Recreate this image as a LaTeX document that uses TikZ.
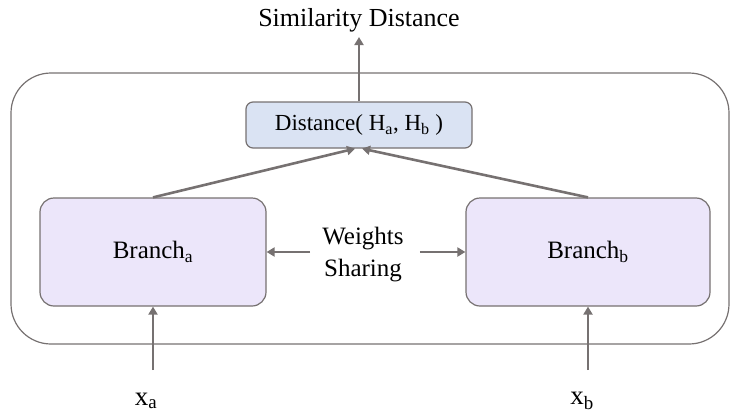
\documentclass[tikz,border=0pt]{standalone}
\usepackage{fontspec}
\setmainfont{Liberation Serif}
\usepackage{tikz}
\usetikzlibrary{arrows.meta}
\definecolor{linegray}{HTML}{767171}
\definecolor{distfill}{HTML}{DAE3F3}
\definecolor{branchfill}{HTML}{ECE6FA}
\tikzset{
  branchbox/.style={draw=linegray, line width=1.2pt, fill=branchfill, rounded corners=14pt, minimum height=108pt, inner sep=0pt, font=\fontsize{25}{30}\selectfont},
  distbox/.style={draw=linegray, line width=1.2pt, fill=distfill, rounded corners=7pt, minimum width=226pt, minimum height=46pt, inner sep=0pt, font=\fontsize{23}{28}\selectfont},
  arr/.style={draw=linegray, line width=2.6pt, -{Triangle[length=8pt,width=9pt]}},
}
\begin{document}
\begin{tikzpicture}[x=1pt,y=-1pt]
        \useasboundingbox (0,0) rectangle (730,415);
        % outer frame
        \draw[linegray, line width=1.2pt, rounded corners=40pt] (11,73) rectangle (729,344);
        % boxes
        \node[distbox] (dist) at (359,125) {Distance( H\textsubscript{a}, H\textsubscript{b} )};
        \node[branchbox, minimum width=226pt] (brancha) at (153,252) {Branch\textsubscript{a}};
        \node[branchbox, minimum width=244pt] (branchb) at (588,252) {Branch\textsubscript{b}};

        % text
        \node[align=center, inner sep=0pt, font=\fontsize{25}{32}\selectfont] (share) at (363,255) {Weights\\Sharing};
        \node[inner sep=0pt, font=\fontsize{26}{30}\selectfont] (sim) at (359,20) {Similarity Distance};
        \node[inner sep=0pt, font=\fontsize{27}{30}\selectfont] (xa) at (146,401) {x\textsubscript{a}};
        \node[inner sep=0pt, font=\fontsize{27}{30}\selectfont] (xb) at (582,401) {x\textsubscript{b}};
        \coordinate (ina) at (153,370);
        \coordinate (inb) at (588,370);

        % arrows
        \draw[arr] (dist.north) -- ([yshift=-5pt]sim.south);
        \draw[arr] (brancha.north) -- ([xshift=-4pt]dist.south);
        \draw[arr] (branchb.north) -- ([xshift=3pt]dist.south);
        \draw[arr] ([xshift=-12pt]share.west |- brancha.east) -- (brancha.east);
        \draw[arr] ([xshift=16pt]share.east |- branchb.west) -- (branchb.west);
        \draw[arr] (ina) -- (brancha.south);
        \draw[arr] (inb) -- (branchb.south);
    \end{tikzpicture}
\end{document}
